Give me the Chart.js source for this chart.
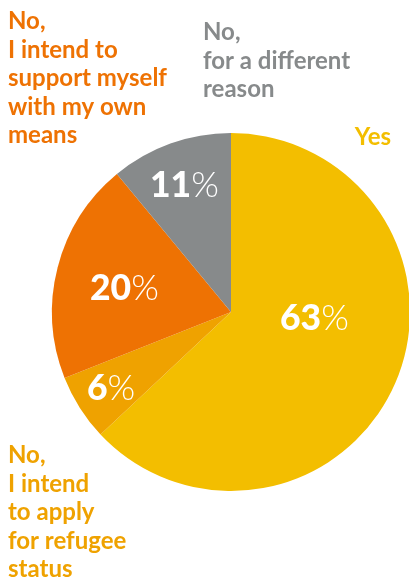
<!DOCTYPE html>
<html>
<head>
<meta charset="utf-8">
<script src="https://cdn.jsdelivr.net/npm/chart.js@4/dist/chart.umd.min.js"></script>
<style>
  html, body { margin: 0; padding: 0; background: #fff; overflow: hidden; }
  #wrap { width: 420px; height: 583px; }
</style>
</head>
<body>
<div id="wrap"><canvas id="chart-pie" width="420" height="583"></canvas></div>
<script>
/*  DATA  */
const categories = [
  "Yes",
  "No, I intend to apply for refugee status",
  "No, I intend to support myself with my own means",
  "No, for a different reason",
];
const shares = [63, 6, 20, 11];
const labelLines = [
  ["Yes"],
  ["No,", "I intend", "to apply", "for refugee", "status"],
  ["No,", "I intend to", "support myself", "with my own", "means"],
  ["No,", "for a different", "reason"],
];

// цвета сегментов и подписей
const colors = ["#F3BE00", "#EFA200", "#EE7203", "#878A8B"];

// где стоят подписи (x, первая базовая линия, выравнивание)
const outerPos = [
  { x: 391, y: 145, align: "right" },
  { x: 8, y: 463, align: "left" },
  { x: 8, y: 29, align: "left" },
  { x: 203, y: 40, align: "left" },
];
const pctPos = [
  { x: 280, y: 330 },
  { x: 87, y: 400 },
  { x: 90, y: 300 },
  { x: 150, y: 197 },
];
const lineHeight = 28.5;

const labelsPlugin = {
  id: "labels",
  afterDraw(chart) {
    const { ctx } = chart;
    ctx.save();
    ctx.textBaseline = "alphabetic";

    // подписи снаружи
    ctx.font = "bold 24px Lato";
    labelLines.forEach((lines, i) => {
      ctx.fillStyle = colors[i];
      ctx.textAlign = outerPos[i].align;
      lines.forEach((line, j) => {
        ctx.fillText(line, outerPos[i].x, outerPos[i].y + j * lineHeight);
      });
    });

    // проценты внутри
    ctx.textAlign = "left";
    ctx.fillStyle = "#fff";
    shares.forEach((v, i) => {
      const num = String(v);
      ctx.font = "900 35.5px Lato";
      ctx.fillText(num, pctPos[i].x, pctPos[i].y);
      const w = ctx.measureText(num).width;
      ctx.font = "300 35.5px Lato";
      ctx.fillText("%", pctPos[i].x + w, pctPos[i].y);
    });
    ctx.restore();
  },
};

const ctx = document.getElementById("chart-pie").getContext("2d");
new Chart(ctx, {
  type: "pie",
  data: {
    labels: categories,
    datasets: [
      {
        data: shares,
        backgroundColor: colors,
        borderWidth: 0,
      },
    ],
  },
  options: {
    responsive: false,
    animation: false,
    plugins: {
      legend: { display: false },
      tooltip: { enabled: false },
    },
    layout: {
      padding: { top: 133, bottom: 92, left: 52, right: 10 },
    },
  },
  plugins: [labelsPlugin],
});
</script>
</body>
</html>
